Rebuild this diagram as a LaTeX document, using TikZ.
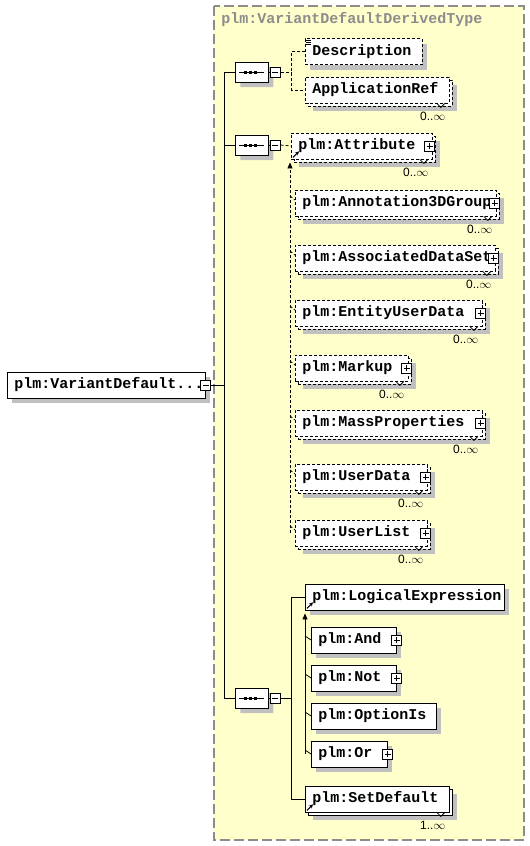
\documentclass[tikz,border=0pt]{standalone}
\usepackage{fontspec}
\newfontfamily\elemfamily{Liberation Mono}
\newfontfamily\countfamily{Liberation Sans}
\newcommand\elemfont{\elemfamily\bfseries\fontsize{15}{16}\selectfont}
\newcommand\countfont{\countfamily\fontsize{12}{12}\selectfont}
\usetikzlibrary{arrows.meta,shapes.misc}
\definecolor{boxyellow}{RGB}{255,255,204}
\definecolor{shadowgray}{RGB}{192,192,192}
\definecolor{framegray}{RGB}{140,140,140}
\begin{document}
\begin{tikzpicture}[x=1pt,y=-1pt,line width=0.8pt,
 elem/.style={draw,fill=white,anchor=west,font=\elemfont,inner xsep=7pt,inner ysep=0pt,minimum height=26pt,align=left},
 single/.style={preaction={fill=shadowgray,transform canvas={shift={(5pt,-5pt)}}}},
 multi/.style={preaction={fill=shadowgray,transform canvas={shift={(8pt,-8pt)}}},preaction={draw,fill=white,transform canvas={shift={(3pt,-3pt)}}}},
 opt/.style={dash pattern=on 3pt off 2pt},
 seqbox/.style={chamfered rectangle,chamfered rectangle xsep=6pt,draw,fill=white,anchor=west,minimum width=33pt,minimum height=20pt,inner sep=0pt,preaction={fill=shadowgray,transform canvas={shift={(5pt,-5pt)}}}},
 minusbox/.style={draw,solid,fill=white,minimum size=10pt,inner sep=0pt,path picture={\draw[solid] ([xshift=2pt]path picture bounding box.west)--([xshift=-2pt]path picture bounding box.east);}},
 plusbox/.style={draw,solid,fill=white,minimum size=10pt,inner sep=0pt,path picture={\draw[solid] ([xshift=2pt]path picture bounding box.west)--([xshift=-2pt]path picture bounding box.east) ([yshift=2pt]path picture bounding box.south)--([yshift=-2pt]path picture bounding box.north);}},
 count/.style={font=\countfont,inner sep=0pt},
 subtip/.style={-{Triangle[length=6pt,width=5pt]}},
 reftip/.style={line width=1pt,-{Stealth[length=4pt,width=4pt]}}]
 \useasboundingbox (0,0) rectangle (530,846);
 % type frame
 \filldraw[fill=boxyellow,draw=framegray,line width=1.5pt,dash pattern=on 10pt off 4pt] (214,6) rectangle (524,840);
 \node[anchor=west,inner sep=0pt,font=\elemfont,text=framegray] (title) at (221,20) {plm:VariantDefaultDerivedType};
 % root element
 \node[elem,single,text width=184pt] (root) at (7,385) {plm:VariantDefault...};
 \node[minusbox] (rootm) at (root.east) {};
 % sequences
 \foreach \nm/\cy in {s1/72,s2/145,s3/698} {
  \node[seqbox] (\nm) at (235,\cy) {};
  \draw ([xshift=4pt]\nm.west) -- ([xshift=-5pt]\nm.east);
  \foreach \dx in {10,15,20} \fill ([xshift=\dx pt]\nm.west) ++(-1.5,-1.5) rectangle ++(3,3);
  \node[minusbox,anchor=west] (\nm m) at ([xshift=1pt]\nm.east) {};
  \draw (\nm.east) -- (\nm m.west);
 }
 \draw (rootm.east) -- ++(13,0) coordinate (jn);
 \draw (s1.west) -| (jn) |- (s3.west);
 \draw (s2.west) -- (s2.west -| jn);
 % first sequence
 \node[elem,opt,single,text width=103pt] (desc) at (305,51.5) {Description};
 \foreach \k in {2,4,6} \draw[line width=0.6pt] ([xshift=1pt,yshift=-\k pt]desc.north west) -- ++(5,0);
 \node[elem,opt,multi,text width=130pt] (appr) at (305,90) {ApplicationRef};
 \draw ([xshift=-13pt]appr.south east) -- ++(4,4) -- ++(4,-4);
 \node[count] (apprc) at ([xshift=-17pt,yshift=-13pt]appr.south east) {0..\(\infty\)};
 \draw[opt] (s1m.east) -- ++(11,0) coordinate (c1);
 \draw[opt] (desc.west) -| (c1) |- (appr.west);
 % second sequence: substitution group of plm:Attribute
 \node[elem,opt,multi,text width=127pt] (att) at (291,146) {plm:Attribute};
 \node[plusbox] (attp) at ([xshift=-3pt]att.east) {};
 \draw ([xshift=-13pt]att.south east) -- ++(4,4) -- ++(4,-4);
 \node[count] (attc) at ([xshift=-17pt,yshift=-13pt]att.south east) {0..\(\infty\)};
 \draw[reftip] ([xshift=2pt,yshift=2pt]att.south west) -- ++(6,-6);
 \draw[opt] (s2m.east) -- (att.west);
 \foreach \nm/\lbl/\cy/\tw in {ann/Annotation3DGroup/203/187,ads/AssociatedDataSet/258/186,eud/EntityUserData/313/173,mku/Markup/368/99,mas/MassProperties/423/173,usd/UserData/477/118,usl/UserList/533/118} {
  \node[elem,opt,multi,text width=\tw pt] (\nm) at (295,\cy) {plm:\lbl};
  \node[plusbox] (\nm p) at ([xshift=-2pt]\nm.east) {};
  \draw ([xshift=-13pt]\nm.south east) -- ++(4,4) -- ++(4,-4);
  \node[count] (\nm c) at ([xshift=-17pt,yshift=-13pt]\nm.south east) {0..\(\infty\)};
  \draw[opt] ([xshift=-5pt,yshift=7pt]\nm.west) -- ([yshift=3pt]\nm.west);
 }
 \draw[opt,subtip] ([xshift=-5pt]usl.west) -- ([xshift=-1pt,yshift=-3pt]att.south west);
 % third sequence: substitution group of plm:LogicalExpression
 \node[elem,single,text width=185pt] (lex) at (305,597) {plm:LogicalExpression};
 \draw[reftip] ([xshift=2pt,yshift=2pt]lex.south west) -- ++(6,-6);
 \foreach \nm/\lbl/\cy/\tw in {and/And/640/71,not/Not/678/71,opi/OptionIs/716/111,orx/Or/754/62} {
  \node[elem,single,text width=\tw pt] (\nm) at (311,\cy) {plm:\lbl};
  \draw ([xshift=-6pt,yshift=4pt]\nm.west) -- (\nm.west);
 }
 \foreach \nm in {and,not,orx} \node[plusbox] (\nm p) at (\nm.east) {};
 \draw[subtip] (orx.west -| lex.south west) -- ([yshift=-3pt]lex.south west);
 \node[elem,multi,text width=130pt] (sdf) at (305,799) {plm:SetDefault};
 \draw[reftip] ([xshift=2pt,yshift=2pt]sdf.south west) -- ++(6,-6);
 \draw ([xshift=-13pt]sdf.south east) -- ++(4,4) -- ++(4,-4);
 \node[count] (sdfc) at ([xshift=-17pt,yshift=-13pt]sdf.south east) {1..\(\infty\)};
 \draw (s3m.east) -- ++(11,0) coordinate (c3);
 \draw (lex.west) -| (c3) |- (sdf.west);
\end{tikzpicture}
\end{document}
